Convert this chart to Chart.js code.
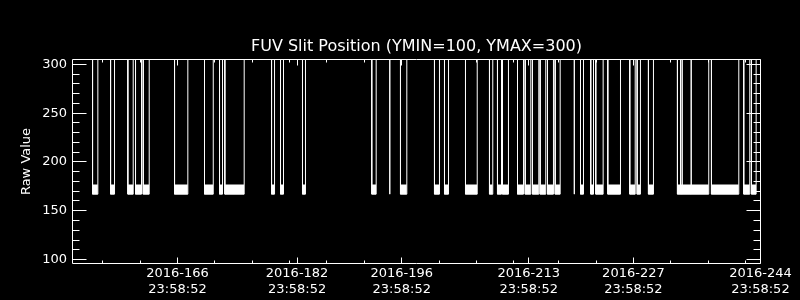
<!DOCTYPE html>
<html>
<head>
<meta charset="utf-8">
<title>FUV Slit Position</title>
<script src="https://cdn.jsdelivr.net/npm/chart.js@4.4.1/dist/chart.umd.min.js"></script>
<style>
  html, body { margin: 0; padding: 0; background: #000; }
  canvas { display: block; }
</style>
</head>
<body>
<canvas id="slitChart" width="800" height="300"></canvas>
<script>
// intervals where the slit sits at its low position (2016 day of year, fractional)
const blockStart = [155.63, 158.04, 160.35, 161.38, 162.41, 166.60, 170.61, 172.62, 173.33, 179.58,
                    180.78, 183.72, 192.99, 196.83, 201.38, 202.72, 205.53, 208.74, 209.81, 210.48,
                    212.49, 213.52, 214.49, 215.52, 216.50, 217.53, 220.92, 222.29, 222.96, 224.57,
                    227.51, 228.50, 230.01, 233.89, 238.44, 242.76, 243.79];
const blockEnd   = [156.34, 158.57, 161.07, 162.18, 163.21, 168.38, 171.78, 173.02, 175.92, 179.98,
                    181.18, 184.12, 193.58, 197.68, 202.05, 203.26, 207.10, 209.18, 210.35, 211.28,
                    213.29, 214.27, 215.34, 216.27, 217.30, 218.20, 221.32, 222.66, 223.95, 226.27,
                    228.24, 228.94, 230.68, 238.08, 242.10, 243.57, 244.42];
const dropDays = [195.40, 220.09];          // single readings at the low position
const riseDays = [234.30, 234.52, 235.73];  // brief excursions up inside a low interval
const lowTop = 177;
const lowBottom = 167;
const highValue = 400;                      // off scale, clipped at the top

const majorTickDays = [166, 182, 196, 213, 227, 244];
const tickTime = '23:58:52';
const minorTickDays = [156, 161, 171, 176, 181, 186, 191, 201, 206, 211, 217, 222, 232, 237, 242];
const yMajorTicks = [100, 150, 200, 250, 300];
const yMinorTicks = [110, 120, 130, 140, 160, 170, 180, 190, 210, 220, 230, 240, 260, 270, 280, 290];
const xRange = [152.88, 245.07];
const yRange = [95.4, 305.6];

const dayFrac = 86332 / 86400; // 23:58:52

// filled plateau for each low interval
const fillData = [];
blockStart.forEach((s, i) => {
    fillData.push({ x: s, y: lowTop }, { x: blockEnd[i], y: lowTop }, { x: blockEnd[i], y: null });
});

// the trace itself: drops and rises sorted in time
const events = [];
blockStart.forEach((s, i) => {
    events.push({ x: s, vals: [highValue, lowBottom] });
    events.push({ x: blockEnd[i], vals: [lowBottom, highValue] });
});
dropDays.forEach(d => events.push({ x: d, vals: [highValue, lowBottom, highValue] }));
riseDays.forEach(d => events.push({ x: d, vals: [lowBottom, highValue, lowBottom] }));
events.sort((a, b) => a.x - b.x);
const traceData = [];
events.forEach(e => e.vals.forEach(v => traceData.push({ x: e.x, y: v })));

// IDL style box with inward ticks on all four sides
const idlFrame = {
    id: 'idlFrame',
    afterDatasetsDraw(chart) {
        const { ctx, chartArea, scales: { x, y } } = chart;
        const l = chartArea.left + 0.5, r = chartArea.right - 0.5;
        const t = chartArea.top + 0.5, b = chartArea.bottom - 0.5;
        const px = v => Math.floor(x.getPixelForValue(v)) + 0.5;
        const py = v => Math.floor(y.getPixelForValue(v)) + 0.5;

        ctx.save();
        ctx.strokeStyle = '#fff';
        ctx.lineWidth = 1;
        ctx.beginPath();
        ctx.rect(l, t, r - l, b - t);

        const yTick = (v, len) => {
            ctx.moveTo(l, py(v)); ctx.lineTo(l + len, py(v));
            ctx.moveTo(r, py(v)); ctx.lineTo(r - len, py(v));
        };
        const xTick = (v, len) => {
            ctx.moveTo(px(v), b); ctx.lineTo(px(v), b - len);
            ctx.moveTo(px(v), t); ctx.lineTo(px(v), t + len);
        };
        yMajorTicks.forEach(v => yTick(v, 14));
        yMinorTicks.forEach(v => yTick(v, 7));
        majorTickDays.forEach(d => xTick(d + dayFrac, 6));
        minorTickDays.forEach(d => xTick(d + dayFrac, 3));
        ctx.stroke();
        ctx.restore();
    }
};

Chart.defaults.color = '#fff';
Chart.defaults.font.family = "'DejaVu Sans', sans-serif";

new Chart(document.getElementById('slitChart'), {
    type: 'line',
    data: {
        datasets: [
            {
                data: fillData,
                borderWidth: 0,
                backgroundColor: '#fff',
                fill: { value: lowBottom },
                pointRadius: 0
            },
            {
                data: traceData,
                borderColor: '#fff',
                borderWidth: 1,
                fill: false,
                pointRadius: 0
            }
        ]
    },
    options: {
        responsive: false,
        animation: false,
        events: [],
        layout: { padding: { left: 0, right: 39, top: 0, bottom: 0 } },
        plugins: {
            legend: { display: false },
            tooltip: { enabled: false },
            title: {
                display: true,
                fullSize: false,
                text: 'FUV Slit Position (YMIN=100, YMAX=300)',
                font: { size: 16, weight: 'normal', lineHeight: 1.25 },
                padding: { top: 37, bottom: 2 }
            }
        },
        scales: {
            x: {
                type: 'linear',
                min: xRange[0],
                max: xRange[1],
                grid: { display: false, drawTicks: false },
                border: { display: false },
                afterBuildTicks: s => { s.ticks = majorTickDays.map(d => ({ value: d + dayFrac })); },
                afterFit: s => { s.height = 36; },
                ticks: {
                    autoSkip: false,
                    maxRotation: 0,
                    padding: 2,
                    font: { size: 13 },
                    callback: (v, i) => ['2016-' + majorTickDays[i], tickTime]
                }
            },
            y: {
                min: yRange[0],
                max: yRange[1],
                grid: { display: false, drawTicks: false },
                border: { display: false },
                afterBuildTicks: s => { s.ticks = yMajorTicks.map(v => ({ value: v })); },
                afterFit: s => { s.width = 72; },
                ticks: { padding: 5, font: { size: 13 } },
                title: {
                    display: true,
                    text: 'Raw Value',
                    font: { size: 13 },
                    padding: { top: 19, bottom: 0 }
                }
            }
        }
    },
    plugins: [idlFrame]
});
</script>
</body>
</html>
